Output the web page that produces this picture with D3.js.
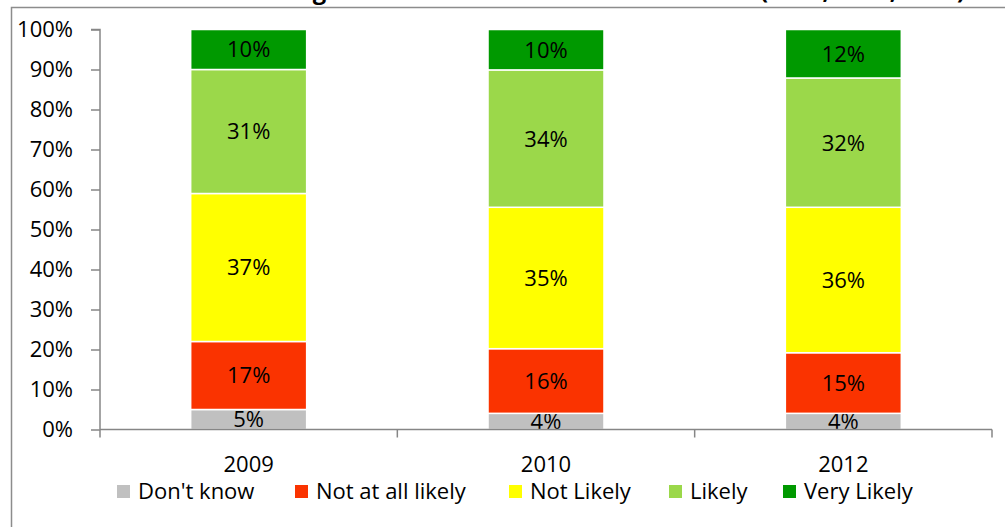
<!DOCTYPE html>
<html>
<head>
<meta charset="utf-8">
<script src="https://cdn.jsdelivr.net/npm/d3@7"></script>
<style>
  html, body { margin: 0; padding: 0; background: #fff; }
  svg { display: block; font-family: "Open Sans", "Liberation Sans", sans-serif; }
</style>
</head>
<body>
<svg id="chart" width="1005" height="527"></svg>
<script>
const years = ["2009", "2010", "2012"];
const seriesNames = ["Don't know", "Not at all likely", "Not Likely", "Likely", "Very Likely"];
const seriesColors = ["#C0C0C0", "#FA3300", "#FFFF00", "#9BD84A", "#009900"];
const dontKnow = [5, 4, 4];
const notAtAllLikely = [17, 16, 15];
const notLikely = [37, 35, 36];
const likely = [31, 34, 32];
const veryLikely = [10, 10, 12];
const yTicks = [0, 0.1, 0.2, 0.3, 0.4, 0.5, 0.6, 0.7, 0.8, 0.9, 1.0];
const titleText = "Likelihood of Using the Internet for Health Information (2009, 2010, 2012)";

(function () {
const seriesValues = [dontKnow, notAtAllLikely, notLikely, likely, veryLikely];
const rows = years.map((yr, i) => {
  const r = { year: yr };
  seriesNames.forEach((s, k) => { r[s] = seriesValues[k][i]; });
  return r;
});

const svg = d3.select("#chart");

// outer frame
svg.append("rect").attr("x", 11.5).attr("y", 7.5).attr("width", 1100).attr("height", 600)
  .attr("fill", "none").attr("stroke", "#8C8C8C").attr("stroke-width", 1.5);

// title, cut off at the top as in the original
svg.append("text").attr("x", 100).attr("y", -1)
  .attr("font-size", 24).attr("font-weight", "bold").attr("fill", "#000")
  .attr("textLength", 865).attr("lengthAdjust", "spacingAndGlyphs")
  .text(titleText);

const pLeft = 100, pRight = 992, pTop = 29.5, pBottom = 429.5;
const x = d3.scaleBand().domain(years).range([pLeft, pRight]).padding(0);
const y = d3.scaleLinear().domain([0, 1]).range([pBottom, pTop]);

const stack = d3.stack().keys(seriesNames).offset(d3.stackOffsetExpand);
const stacked = stack(rows);

const barW = x.bandwidth() * 0.39;
const g = svg.append("g");
stacked.forEach((layer, k) => {
  layer.forEach((d, i) => {
    const x0 = x(d.data.year) + (x.bandwidth() - barW) / 2;
    g.append("rect")
      .attr("x", x0).attr("width", barW)
      .attr("y", y(d[1])).attr("height", y(d[0]) - y(d[1]))
      .attr("fill", seriesColors[k])
      .attr("stroke", "#fff").attr("stroke-width", 1.5);
    g.append("text")
      .attr("x", x0 + barW / 2)
      .attr("y", (y(d[0]) + y(d[1])) / 2)
      .attr("dy", "0.36em")
      .attr("text-anchor", "middle")
      .attr("font-size", 22).attr("fill", "#000")
      .text(seriesValues[k][i] + "%");
  });
});

// Y axis
const yAxis = d3.axisLeft(y).tickValues(yTicks).tickFormat(d3.format(".0%")).tickSize(9).tickPadding(18);
const ya = svg.append("g").attr("transform", `translate(${pLeft},0)`).call(yAxis);
ya.select(".domain").attr("stroke", "#868686").attr("stroke-width", 1.5).attr("d", `M-9,${pTop}H0V${pBottom}`);
ya.selectAll(".tick line").attr("stroke", "#868686").attr("stroke-width", 1.5);
ya.selectAll(".tick text").attr("font-size", 22).attr("fill", "#000").attr("font-family", "Open Sans, Liberation Sans, sans-serif");

// X axis
const xa = svg.append("g").attr("transform", `translate(0,${pBottom})`);
xa.append("line").attr("x1", pLeft).attr("x2", pRight).attr("y1", 0).attr("y2", 0)
  .attr("stroke", "#868686").attr("stroke-width", 1.5);
const edges = years.map(yy => x(yy)).concat([x(years[years.length - 1]) + x.bandwidth()]);
edges.forEach(e => {
  xa.append("line").attr("x1", e).attr("x2", e).attr("y1", 0).attr("y2", 8)
    .attr("stroke", "#868686").attr("stroke-width", 1.5);
});
years.forEach(yy => {
  xa.append("text").attr("x", x(yy) + x.bandwidth() / 2).attr("y", 42)
    .attr("text-anchor", "middle").attr("font-size", 22).attr("fill", "#000").text(yy);
});

// Legend
const legendX = [117, 295, 509, 669, 783];
const lg = svg.append("g");
seriesNames.forEach((s, k) => {
  lg.append("rect").attr("x", legendX[k]).attr("y", 485).attr("width", 13).attr("height", 13)
    .attr("fill", seriesColors[k]);
  lg.append("text").attr("x", legendX[k] + 21).attr("y", 499)
    .attr("font-size", 22).attr("fill", "#000").text(s);
});
})();
</script>
</body>
</html>
